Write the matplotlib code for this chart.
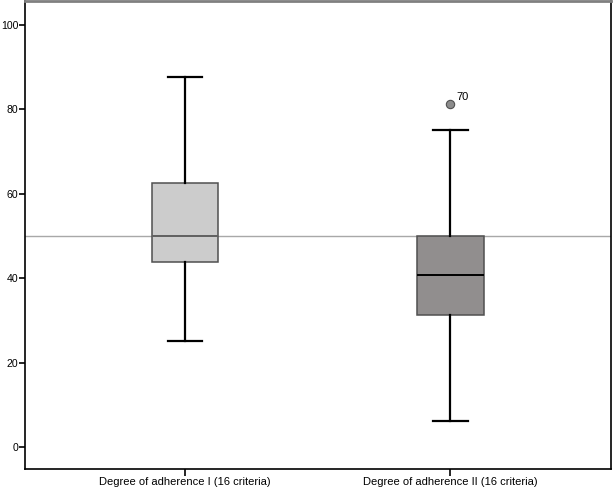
import matplotlib.pyplot as plt

plt.rcParams['font.family'] = ['Liberation Sans', 'DejaVu Sans']

# box statistics
labels = ['Degree of adherence I (16 criteria)', 'Degree of adherence II (16 criteria)']
whislo = [25.0, 6.25]
q1 = [43.75, 31.25]
med = [50.0, 40.625]
q3 = [62.5, 50.0]
whishi = [87.5, 75.0]
fliers = [[], [81.25]]
flier_ids = [[], ['70']]
box_colors = ['#cccccc', '#918e8e']
ref_line = 50

stats = []
for i in range(len(labels)):
    stats.append({'label': labels[i], 'whislo': whislo[i], 'q1': q1[i], 'med': med[i],
                  'q3': q3[i], 'whishi': whishi[i], 'fliers': fliers[i]})

fig = plt.figure(figsize=(6.13, 4.90), dpi=100)
ax = fig.add_axes([0.040, 0.043, 0.957, 0.955])

ax.axhline(ref_line, color='#a8a8a8', lw=1, zorder=1)

bp = ax.bxp(stats, positions=[1, 2], widths=0.25, patch_artist=True,
            boxprops=dict(edgecolor='#505050', linewidth=1.1),
            medianprops=dict(color='black', linewidth=1.4),
            whiskerprops=dict(color='black', linewidth=1.6),
            capprops=dict(color='black', linewidth=1.6),
            capwidths=0.13,
            flierprops=dict(marker='o', markerfacecolor='#8c8c8c', markeredgecolor='#505050',
                            markersize=6, markeredgewidth=0.8),
            zorder=2)
for patch, c in zip(bp['boxes'], box_colors):
    patch.set_facecolor(c)
bp['medians'][0].set_color('#606060')

for i in range(len(labels)):
    for v, t in zip(fliers[i], flier_ids[i]):
        ax.annotate(t, (i + 1, v), xytext=(4, 3), textcoords='offset points', fontsize=8)

ax.set_xlim(0.394, 2.606)
ax.set_ylim(-5.2, 105.6)
ax.set_yticks([0, 20, 40, 60, 80, 100])
ax.tick_params(axis='y', labelsize=7.6, length=4, width=1.2, colors='black', pad=0.5)
ax.tick_params(axis='x', labelsize=8, length=5, width=1.2, colors='black', pad=1)
for s in ['left', 'bottom', 'right']:
    ax.spines[s].set_linewidth(1.2)
ax.spines['top'].set_color('#808080')
ax.spines['top'].set_linewidth(2)

fig.savefig('out.png', dpi=100)
